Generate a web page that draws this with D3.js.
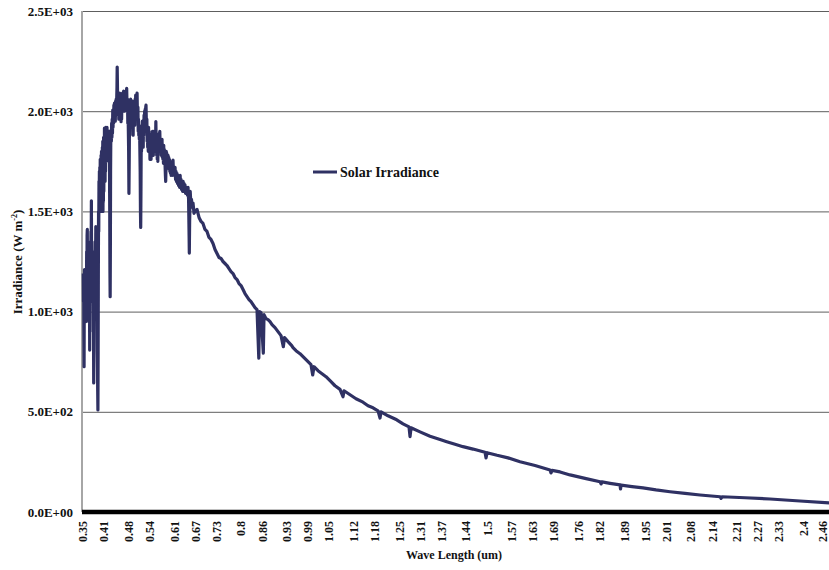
<!DOCTYPE html>
<html>
<head>
<meta charset="utf-8">
<script src="https://cdn.jsdelivr.net/npm/d3@7"></script>
<style>
  body { margin: 0; background: #fff; }
  svg { display: block; }
  text { font-family: "Liberation Serif", "Times New Roman", serif; font-weight: bold; fill: #111; }
</style>
</head>
<body>
<svg id="chart" width="829" height="570"></svg>
<script>
// ---- data ----
const seriesName = "Solar Irradiance";
const wavelength = [
  0.3500, 0.3506, 0.3511, 0.3517, 0.3522, 0.3528, 0.3534, 0.3540, 0.3546, 0.3552,
  0.3558, 0.3565, 0.3571, 0.3577, 0.3583, 0.3589, 0.3596, 0.3602, 0.3608, 0.3614,
  0.3620, 0.3626, 0.3632, 0.3638, 0.3645, 0.3651, 0.3657, 0.3663, 0.3669, 0.3675,
  0.3682, 0.3688, 0.3694, 0.3700, 0.3706, 0.3712, 0.3718, 0.3724, 0.3730, 0.3736,
  0.3742, 0.3748, 0.3754, 0.3760, 0.3766, 0.3772, 0.3778, 0.3784, 0.3790, 0.3796,
  0.3802, 0.3808, 0.3814, 0.3820, 0.3826, 0.3832, 0.3838, 0.3844, 0.3850, 0.3856,
  0.3862, 0.3868, 0.3874, 0.3880, 0.3886, 0.3892, 0.3898, 0.3904, 0.3910, 0.3916,
  0.3922, 0.3928, 0.3934, 0.3940, 0.3946, 0.3952, 0.3958, 0.3964, 0.3970, 0.3976,
  0.3982, 0.3988, 0.3994, 0.4000, 0.4006, 0.4012, 0.4018, 0.4024, 0.4030, 0.4036,
  0.4042, 0.4048, 0.4054, 0.4060, 0.4066, 0.4072, 0.4078, 0.4084, 0.4090, 0.4096,
  0.4102, 0.4108, 0.4114, 0.4120, 0.4126, 0.4132, 0.4138, 0.4144, 0.4150, 0.4156,
  0.4162, 0.4168, 0.4174, 0.4180, 0.4186, 0.4192, 0.4198, 0.4204, 0.4210, 0.4216,
  0.4222, 0.4228, 0.4234, 0.4240, 0.4246, 0.4252, 0.4258, 0.4264, 0.4270, 0.4276,
  0.4282, 0.4290, 0.4298, 0.4306, 0.4314, 0.4322, 0.4330, 0.4338, 0.4346, 0.4354,
  0.4362, 0.4370, 0.4378, 0.4386, 0.4394, 0.4402, 0.4410, 0.4418, 0.4426, 0.4434,
  0.4442, 0.4450, 0.4458, 0.4464, 0.4470, 0.4478, 0.4486, 0.4494, 0.4502, 0.4510,
  0.4518, 0.4526, 0.4534, 0.4542, 0.4550, 0.4558, 0.4566, 0.4574, 0.4582, 0.4590,
  0.4598, 0.4606, 0.4614, 0.4622, 0.4630, 0.4638, 0.4646, 0.4654, 0.4662, 0.4670,
  0.4678, 0.4686, 0.4694, 0.4702, 0.4710, 0.4718, 0.4726, 0.4734, 0.4742, 0.4750,
  0.4758, 0.4766, 0.4774, 0.4782, 0.4790, 0.4798, 0.4806, 0.4814, 0.4822, 0.4830,
  0.4838, 0.4846, 0.4854, 0.4862, 0.4870, 0.4878, 0.4886, 0.4894, 0.4902, 0.4910,
  0.4918, 0.4926, 0.4934, 0.4942, 0.4950, 0.4958, 0.4966, 0.4974, 0.4982, 0.4990,
  0.4998, 0.5006, 0.5014, 0.5022, 0.5030, 0.5038, 0.5046, 0.5054, 0.5062, 0.5070,
  0.5078, 0.5086, 0.5094, 0.5102, 0.5110, 0.5118, 0.5126, 0.5133, 0.5140, 0.5148,
  0.5156, 0.5164, 0.5172, 0.5180, 0.5188, 0.5196, 0.5204, 0.5212, 0.5220, 0.5228,
  0.5236, 0.5244, 0.5252, 0.5260, 0.5268, 0.5276, 0.5284, 0.5292, 0.5300, 0.5308,
  0.5316, 0.5324, 0.5332, 0.5340, 0.5348, 0.5356, 0.5364, 0.5372, 0.5380, 0.5388,
  0.5396, 0.5404, 0.5412, 0.5420, 0.5428, 0.5436, 0.5444, 0.5452, 0.5460, 0.5468,
  0.5476, 0.5484, 0.5492, 0.5500, 0.5508, 0.5516, 0.5524, 0.5532, 0.5540, 0.5548,
  0.5556, 0.5564, 0.5572, 0.5580, 0.5588, 0.5596, 0.5604, 0.5612, 0.5620, 0.5628,
  0.5636, 0.5644, 0.5652, 0.5660, 0.5668, 0.5676, 0.5684, 0.5692, 0.5700, 0.5708,
  0.5716, 0.5724, 0.5732, 0.5740, 0.5748, 0.5756, 0.5764, 0.5772, 0.5780, 0.5788,
  0.5796, 0.5804, 0.5812, 0.5820, 0.5828, 0.5836, 0.5844, 0.5852, 0.5860, 0.5868,
  0.5876, 0.5884, 0.5892, 0.5900, 0.5910, 0.5920, 0.5930, 0.5940, 0.5950, 0.5960,
  0.5970, 0.5980, 0.5990, 0.6000, 0.6010, 0.6020, 0.6030, 0.6040, 0.6052, 0.6065,
  0.6080, 0.6095, 0.6110, 0.6125, 0.6137, 0.6150, 0.6165, 0.6180, 0.6195, 0.6210,
  0.6223, 0.6240, 0.6255, 0.6265, 0.6280, 0.6295, 0.6308, 0.6325, 0.6340, 0.6351,
  0.6365, 0.6380, 0.6393, 0.6410, 0.6425, 0.6436, 0.6450, 0.6465, 0.6479, 0.6495,
  0.6510, 0.6516, 0.6525, 0.6541, 0.6560, 0.6578, 0.6600, 0.6621, 0.6650, 0.6678,
  0.6735, 0.6792, 0.6849, 0.6905, 0.6962, 0.7019, 0.7076, 0.7133, 0.7190, 0.7247,
  0.7304, 0.7361, 0.7418, 0.7474, 0.7531, 0.7588, 0.7645, 0.7702, 0.7759, 0.7816,
  0.7873, 0.7930, 0.7987, 0.8044, 0.8100, 0.8157, 0.8214, 0.8271, 0.8328, 0.8385,
  0.8442, 0.8493, 0.8513, 0.8556, 0.8621, 0.8641, 0.8698, 0.8755, 0.8812, 0.8869,
  0.8954, 0.9039, 0.9125, 0.9190, 0.9224, 0.9324, 0.9429, 0.9466, 0.9551, 0.9665,
  0.9779, 0.9893, 0.9978, 1.0026, 1.0063, 1.0177, 1.0291, 1.0405, 1.0519, 1.0661,
  1.0803, 1.0888, 1.0917, 1.1088, 1.1258, 1.1457, 1.1600, 1.1742, 1.1884, 1.1941,
  1.1970, 1.2169, 1.2416, 1.2596, 1.2766, 1.2795, 1.2823, 1.3079, 1.3364, 1.3648,
  1.3839, 1.4075, 1.4302, 1.4587, 1.4928, 1.4957, 1.4986, 1.5270, 1.5583, 1.5924,
  1.6351, 1.6778, 1.6806, 1.6835, 1.7062, 1.7347, 1.7773, 1.8200, 1.8229, 1.8257,
  1.8485, 1.8769, 1.8783, 1.8800, 1.9110, 1.9423, 1.9793, 2.0191, 2.0618, 2.1045,
  2.1615, 2.1643, 2.1672, 2.2325, 2.3036, 2.3890, 2.4715
];
const irradiance = [
  1190, 1050, 1180, 880, 725, 1100, 1210, 1000, 1150, 1050,
  1200, 950, 1120, 1000, 1180, 1050, 1300, 1100, 1380, 1410,
  1150, 1250, 1000, 1200, 1100, 1280, 950, 1150, 1050, 1200,
  808, 1100, 1300, 1150, 1350, 1250, 1400, 1300, 1553, 1200,
  1350, 1100, 1250, 1050, 1300, 1150, 1250, 900, 1000, 644,
  900, 1150, 1050, 1250, 1150, 1300, 1200, 1350, 1250, 1424,
  1300, 1400, 1200, 1300, 1000, 1100, 800, 720, 600, 509,
  800, 1200, 1500, 1400, 1650, 1550, 1700, 1500, 1720, 1600,
  1760, 1520, 1750, 1500, 1780, 1550, 1800, 1520, 1760, 1500,
  1820, 1600, 1850, 1500, 1800, 1550, 1870, 1600, 1850, 1700,
  1916, 1800, 1900, 1650, 1916, 1700, 1920, 1800, 1880, 1750,
  1900, 1800, 1920, 1850, 1780, 1900, 1820, 1870, 1780, 1900,
  1840, 1900, 1820, 1880, 1700, 1500, 1200, 1074, 1300, 1700,
  1850, 1906, 1850, 1940, 1870, 1960, 1890, 2006, 1920, 1990,
  1940, 2030, 1960, 2040, 1970, 2030, 1950, 2050, 2000, 2060,
  1990, 2060, 2120, 2220, 2150, 2040, 2080, 1980, 2060, 1960,
  2080, 2000, 2090, 2020, 2060, 1980, 2030, 1948, 2010, 1960,
  2060, 2000, 2090, 2020, 2080, 2030, 2100, 2040, 2080, 2000,
  2090, 2030, 2095, 2040, 2100, 2050, 2080, 2114, 2040, 2000,
  2060, 1940, 1990, 1900, 1800, 1590, 1750, 1950, 1880, 2000,
  1920, 2060, 1960, 2020, 1940, 2040, 1960, 2050, 1920, 1990,
  1880, 2010, 1930, 2020, 1950, 2000, 1930, 2060, 1980, 2080,
  2000, 2060, 1980, 2070, 2090, 2000, 1960, 2020, 1900, 1960,
  1880, 1920, 1860, 1900, 1800, 1700, 1500, 1420, 1600, 1860,
  1800, 1930, 1860, 1950, 1840, 1900, 1820, 1940, 1880, 1980,
  1900, 2000, 1940, 2010, 1950, 2020, 2030, 1960, 1900, 1960,
  1850, 1900, 1820, 1880, 1800, 1920, 1840, 1900, 1820, 1880,
  1760, 1850, 1780, 1880, 1760, 1860, 1780, 1880, 1820, 1900,
  1800, 1870, 1780, 1900, 1820, 1880, 1800, 1870, 1820, 1900,
  1850, 1948, 1860, 1880, 1780, 1850, 1760, 1820, 1750, 1860,
  1800, 1880, 1820, 1890, 1830, 1900, 1840, 1860, 1800, 1850,
  1780, 1840, 1790, 1860, 1770, 1820, 1760, 1800, 1740, 1830,
  1760, 1810, 1750, 1790, 1720, 1680, 1650, 1720, 1800, 1750,
  1790, 1730, 1770, 1720, 1780, 1730, 1770, 1710, 1760, 1700,
  1750, 1690, 1730, 1680, 1720, 1700, 1740, 1680, 1756, 1690,
  1720, 1680, 1720, 1660, 1700, 1650, 1690, 1640, 1680, 1630,
  1660, 1620, 1680, 1640, 1660, 1610, 1640, 1600, 1650, 1620,
  1640, 1600, 1632, 1590, 1620, 1600, 1615, 1580, 1620, 1560,
  1380, 1292, 1450, 1600, 1540, 1560, 1520, 1542, 1490, 1500,
  1510, 1470, 1450, 1440, 1410, 1400, 1370, 1360, 1340, 1310,
  1290, 1270, 1265, 1250, 1240, 1230, 1215, 1200, 1190, 1170,
  1160, 1140, 1130, 1110, 1090, 1075, 1060, 1050, 1035, 1020,
  1010, 768, 1000, 995, 793, 985, 965, 960, 950, 935,
  920, 900, 880, 825, 870, 850, 830, 820, 805, 790,
  770, 750, 735, 684, 725, 705, 690, 675, 655, 630,
  612, 575, 605, 585, 565, 548, 530, 520, 505, 469,
  500, 480, 460, 440, 425, 376, 420, 400, 378, 362,
  351, 338, 326, 314, 298, 270, 296, 283, 270, 251,
  232, 210, 195, 208, 200, 185, 168, 151, 140, 150,
  143, 135, 115, 134, 127, 120, 110, 101, 93, 85,
  76, 68, 76, 71, 65, 55, 46
];
const xTickLabels = ["0.35","0.41","0.48","0.54","0.61","0.67","0.73","0.8","0.86","0.93",
  "0.99","1.05","1.12","1.18","1.25","1.31","1.37","1.44","1.5","1.57","1.63","1.69",
  "1.76","1.82","1.89","1.95","2.01","2.08","2.14","2.21","2.27","2.33","2.4","2.46"];
const yTickValues = [0, 500, 1000, 1500, 2000, 2500];
const yTickLabels = ["0.0E+00","5.0E+02","1.0E+03","1.5E+03","2.0E+03","2.5E+03"];

// ---- layout ----
const svg = d3.select("#chart");
const plot = { left: 82, right: 829, top: 11, bottom: 512 };
const x = d3.scaleLinear().domain([0.35, 2.46]).range([83.3, 825]);
const y = d3.scaleLinear().domain([0, 2500]).range([plot.bottom, plot.top]);

// gridlines
svg.append("g").selectAll("line").data(yTickValues.filter(v => v > 0)).join("line")
  .attr("x1", plot.left).attr("x2", plot.right)
  .attr("y1", d => y(d) + 0.5).attr("y2", d => y(d) + 0.5)
  .attr("stroke", "#5e5e5e").attr("stroke-width", 1);

// left axis line
svg.append("line").attr("x1", plot.left).attr("x2", plot.left)
  .attr("y1", plot.top).attr("y2", plot.bottom)
  .attr("stroke", "#a6a6a6").attr("stroke-width", 2);

// y tick labels
svg.append("g").selectAll("text").data(yTickValues).join("text")
  .attr("x", 73).attr("y", d => y(d)).attr("dy", "0.35em")
  .attr("text-anchor", "end").attr("font-size", 13)
  .text((d, i) => yTickLabels[i]);

// data line
const pts = wavelength.map((w, i) => [w, irradiance[i]]);
const line = d3.line().x(d => x(d[0])).y(d => y(d[1]));
svg.append("path").datum(pts).attr("d", line)
  .attr("fill", "none").attr("stroke", "#2f3163").attr("stroke-width", 3.2)
  .attr("stroke-linejoin", "round");

// bottom axis (thick black)
svg.append("line").attr("x1", plot.left).attr("x2", plot.right)
  .attr("y1", plot.bottom).attr("y2", plot.bottom)
  .attr("stroke", "#000").attr("stroke-width", 4.5);

// x tick labels (rotated)
svg.append("g").selectAll("text").data(xTickLabels).join("text")
  .attr("transform", d => `translate(${Math.min(x(+d) + 4, 826.5)},521) rotate(-90)`)
  .attr("text-anchor", "end").attr("font-size", 12)
  .text(d => d);

// axis titles
svg.append("text").attr("x", 454).attr("y", 559).attr("text-anchor", "middle")
  .attr("font-size", 12).text("Wave Length (um)");

const yt = svg.append("text").attr("transform", "translate(22,262) rotate(-90)")
  .attr("text-anchor", "middle").attr("font-size", 13);
yt.append("tspan").text("Irradiance (W m");
yt.append("tspan").attr("font-size", 8).attr("dy", -5).text("-2");
yt.append("tspan").attr("dy", 5).text(")");

// legend
svg.append("line").attr("x1", 313).attr("x2", 337).attr("y1", 172).attr("y2", 172)
  .attr("stroke", "#2f3163").attr("stroke-width", 3);
svg.append("text").attr("x", 340).attr("y", 177).attr("font-size", 14).text(seriesName);
</script>
</body>
</html>
